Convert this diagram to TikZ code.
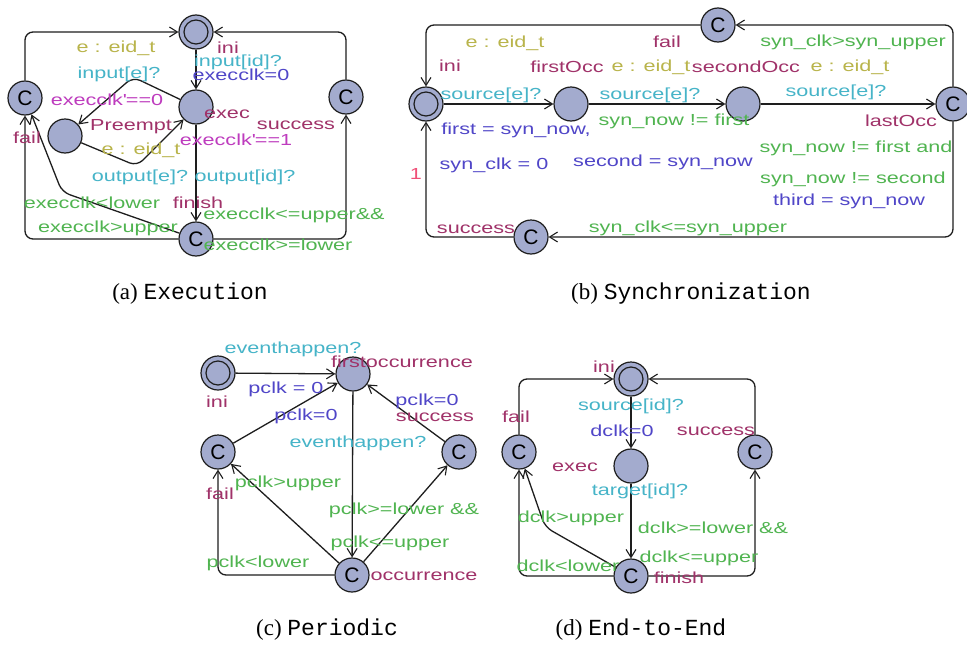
\documentclass[tikz,border=0pt]{standalone}
\usepackage{fontspec}
\setmainfont{Liberation Serif}
\setmonofont{Liberation Mono}
\newfontfamily\lblfont[FakeStretch=1.35]{Liberation Sans}
\newfontfamily\cfont{Liberation Sans}
\usetikzlibrary{arrows.meta}
\definecolor{locfill}{RGB}{163,171,206}
\definecolor{cnm}{RGB}{160,50,105}
\definecolor{csel}{RGB}{185,180,75}
\definecolor{csyn}{RGB}{70,180,200}
\definecolor{cupd}{RGB}{80,70,200}
\definecolor{cgrd}{RGB}{80,180,80}
\definecolor{cinv}{RGB}{190,60,190}
\definecolor{cprb}{RGB}{240,80,120}
\definecolor{cline}{RGB}{30,30,30}
\tikzset{
  loc/.style={circle, draw=cline, fill=locfill, minimum size=34pt, inner sep=0pt, line width=1.2pt},
  comm/.style={loc, font=\cfont\fontsize{21pt}{21pt}\selectfont},
  ring/.style={draw=cline, line width=1.2pt},
  edge/.style={draw=cline, line width=1.3pt, rounded corners=8pt, -{Straight Barb[length=8pt,width=10pt,line width=1.1pt]}},
  lbl/.style={font=\lblfont\fontsize{16pt}{18pt}\selectfont, inner sep=0pt},
  nm/.style={lbl, text=cnm},
  sel/.style={lbl, text=csel},
  syn/.style={lbl, text=csyn},
  upd/.style={lbl, text=cupd},
  grd/.style={lbl, text=cgrd},
  inv/.style={lbl, text=cinv},
  prb/.style={lbl, text=cprb},
  captxt/.style={inner sep=0pt, font=\fontsize{23pt}{26pt}\selectfont}
}
\begin{document}
\begin{tikzpicture}[x=1pt,y=-1pt]
\path[use as bounding box, fill=white] (0,0) rectangle (967,648);

% ================= (a) Execution =================
\node[loc] (aini) at (196,32) {};
\draw[ring] (aini.center) circle[radius=12pt];
\node[loc] (aexec) at (196,107) {};
\node[comm] (asucc) at (346,97) {C};
\node[comm] (afail) at (25,98) {C};
\node[loc] (apre) at (65,136) {};
\node[comm] (afin) at (196,239) {C};
\coordinate (an1) at (133,77);
\coordinate (an2) at (137,166);
\coordinate (an3) at (62,192);

\draw[edge] (afail.north) |- (aini.west);
\draw[edge] (asucc.north) |- (aini.east);
\draw[edge] (aini) -- (aexec);
\draw[edge] (aexec) -- (an1) -- (apre);
\draw[edge] (apre) -- (an2) -- (aexec);
\draw[edge] (aexec) -- (afin);
\draw[edge] (afin.east) -| (asucc.south);
\draw[edge] (afin.west) -| (afail.south);
\draw[edge] (afin) -- (an3) -- (afail);

\node[nm]  (la1) at (228,48) {ini};
\node[syn] (la2) at (238,62) {input[id]?};
\node[upd] (la3) at (241,75) {execclk=0};
\node[nm]  (la4) at (227,114) {exec};
\node[nm]  (la5) at (296,125) {success};
\node[sel] (la6) at (116,48) {e : eid\_t};
\node[syn] (la7) at (119,74) {input[e]?};
\node[inv] (la8) at (107,100) {execclk\textquotesingle==0};
\node[nm]  (la9) at (131,127) {Preempt};
\node[nm]  (la10) at (27,138) {fail};
\node[sel] (la11) at (141,150) {e : eid\_t};
\node[syn] (la12) at (140,177) {output[e]?};
\node[inv] (la13) at (236,140) {execclk\textquotesingle==1};
\node[syn] (la14) at (245,177) {output[id]?};
\node[nm]  (la15) at (198,203) {finish};
\node[grd] (la16) at (92,203) {execclk<lower};
\node[grd] (la17) at (108,228) {execclk>upper};
\node[grd] (la18) at (294,215) {execclk<=upper\&\&};
\node[grd] (la19) at (278,245) {execclk>=lower};

% ================= (b) Synchronization =================
\node[loc] (bini) at (426,104) {};
\draw[ring] (bini.center) circle[radius=12pt];
\node[loc] (bfirst) at (571,104) {};
\node[loc] (bsecond) at (743,104) {};
\node[comm] (blast) at (953,104) {C};
\node[comm] (bfail) at (718,25) {C};
\node[comm] (bsucc) at (531,237) {C};

\draw[edge] (blast.north) |- (bfail.east);
\draw[edge] (bfail.west) -| (bini.north);
\draw[edge] (bini) -- (bfirst);
\draw[edge] (bfirst) -- (bsecond);
\draw[edge] (bsecond) -- (blast);
\draw[edge] (blast.south) |- (bsucc.east);
\draw[edge] (bsucc.west) -| (bini.south);

\node[sel] (lb1) at (505,43) {e : eid\_t};
\node[nm]  (lb2) at (667,42) {fail};
\node[grd] (lb3) at (853,42) {syn\_clk>syn\_upper};
\node[nm]  (lb4) at (450,66) {ini};
\node[nm]  (lb5) at (567,67) {firstOcc};
\node[sel] (lb6) at (651,67) {e : eid\_t};
\node[nm]  (lb7) at (746,67) {secondOcc};
\node[sel] (lb8) at (850,67) {e : eid\_t};
\node[syn] (lb9) at (491,95) {source[e]?};
\node[syn] (lb10) at (650,95) {source[e]?};
\node[syn] (lb11) at (836,92) {source[e]?};
\node[grd] (lb12) at (674,121) {syn\_now != first};
\node[nm]  (lb13) at (901,121) {lastOcc};
\node[upd] (lb14) at (516,130) {first = syn\_now,};
\node[upd] (lb15) at (494,165) {syn\_clk = 0};
\node[upd] (lb16) at (663,162) {second = syn\_now};
\node[grd] (lb17) at (856,148) {syn\_now != first and};
\node[grd] (lb18) at (853,179) {syn\_now != second};
\node[upd] (lb19) at (849,201) {third = syn\_now};
\node[prb] (lb20) at (416,174) {1};
\node[nm]  (lb21) at (476,229) {success};
\node[grd] (lb22) at (688,228) {syn\_clk<=syn\_upper};

% ================= (c) Periodic =================
\node[loc] (cini) at (218,373) {};
\draw[ring] (cini.center) circle[radius=12pt];
\node[loc] (cfirst) at (353,374) {};
\node[comm] (cfail) at (218,452) {C};
\node[comm] (csucc) at (459,452) {C};
\node[comm] (cocc) at (352,575) {C};

\draw[edge] (cini) -- (cfirst);
\draw[edge] (cfail) -- (cfirst);
\draw[edge] (csucc) -- (cfirst);
\draw[edge] (cfirst) -- (cocc);
\draw[edge] (cocc.west) -| (cfail.south);
\draw[edge] (cocc) -- (cfail);
\draw[edge] (cocc) -- (csucc);

\node[syn] (lc1) at (293,349) {eventhappen?};
\node[nm]  (lc2) at (402,362) {firstoccurrence};
\node[nm]  (lc3) at (217,402) {ini};
\node[upd] (lc4) at (286,389) {pclk = 0};
\node[upd] (lc5) at (306,416) {pclk=0};
\node[upd] (lc6) at (427,401) {pclk=0};
\node[nm]  (lc7) at (435,417) {success};
\node[syn] (lc8) at (358,443) {eventhappen?};
\node[nm]  (lc9) at (220,494) {fail};
\node[grd] (lc10) at (288,483) {pclk>upper};
\node[grd] (lc11) at (404,510) {pclk>=lower \&\&};
\node[grd] (lc12) at (390,543) {pclk<=upper};
\node[grd] (lc13) at (258,563) {pclk<lower};
\node[nm]  (lc14) at (424,576) {occurrence};

% ================= (d) End-to-End =================
\node[loc] (dini) at (631,379) {};
\draw[ring] (dini.center) circle[radius=12pt];
\node[comm] (dfail) at (519,452) {C};
\node[comm] (dsucc) at (755,452) {C};
\node[loc] (dexec) at (631,466) {};
\node[comm] (dfin) at (631,576) {C};
\coordinate (dn1) at (545,527);

\draw[edge] (dfail.north) |- (dini.west);
\draw[edge] (dsucc.north) |- (dini.east);
\draw[edge] (dini) -- (dexec);
\draw[edge] (dexec) -- (dfin);
\draw[edge] (dfin.east) -| (dsucc.south);
\draw[edge] (dfin.west) -| (dfail.south);
\draw[edge] (dfin) -- (dn1) -- (dfail);

\node[nm]  (ld1) at (604,367) {ini};
\node[nm]  (ld2) at (516,417) {fail};
\node[syn] (ld3) at (631,406) {source[id]?};
\node[upd] (ld4) at (622,431) {dclk=0};
\node[nm]  (ld5) at (716,431) {success};
\node[nm]  (ld6) at (575,467) {exec};
\node[syn] (ld7) at (640,491) {target[id]?};
\node[grd] (ld8) at (571,518) {dclk>upper};
\node[grd] (ld9) at (713,528) {dclk>=lower \&\&};
\node[grd] (ld10) at (699,558) {dclk<=upper};
\node[grd] (ld11) at (568,566) {dclk<lower};
\node[nm]  (ld12) at (679,578) {finish};

% ================= captions =================
\node[captxt] (capa) at (190,294) {(a) \texttt{Execution}};
\node[captxt] (capb) at (691,294) {(b) \texttt{Synchronization}};
\node[captxt] (capc) at (327,630) {(c) \texttt{Periodic}};
\node[captxt] (capd) at (641,630) {(d) \texttt{End-to-End}};
\end{tikzpicture}
\end{document}
